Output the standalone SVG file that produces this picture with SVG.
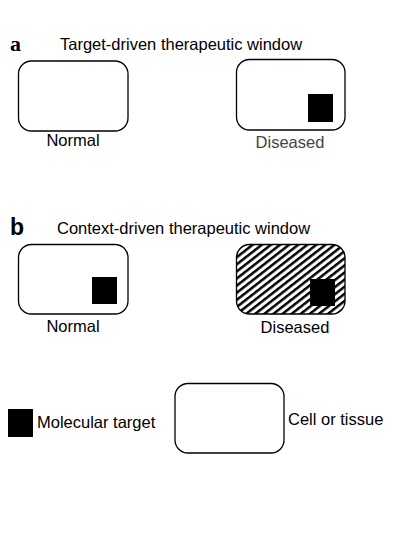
<svg xmlns="http://www.w3.org/2000/svg" width="413" height="543" viewBox="0 0 413 543">
<style>
.cell{fill:#fff;stroke:#000;stroke-width:1.3}
.tgt{fill:#000}
.t{font-family:"Liberation Sans",Arial,sans-serif;font-size:16.5px;fill:#000}
.lab{font-family:"Liberation Sans",Arial,sans-serif;font-size:16.5px;fill:#000;text-anchor:middle}
</style>
<defs>
<pattern id="hatch" patternUnits="userSpaceOnUse" width="5.6" height="10" patternTransform="rotate(52)">
<rect width="5.6" height="10" fill="#fff"/>
<rect x="0" y="0" width="2.5" height="10" fill="#000"/>
</pattern>
</defs>
<rect width="413" height="543" fill="#fff"/>
<g id="panel-a">
<text x="10" y="51" style="font-family:'Liberation Serif',serif;font-weight:bold;font-size:22px">a</text>
<text class="t" x="60" y="50">Target-driven therapeutic window</text>
<g id="a-normal">
<rect class="cell" x="18.5" y="61" width="109.5" height="70" rx="13"/>
<text class="lab" x="73" y="146">Normal</text>
</g>
<g id="a-diseased">
<rect class="cell" x="236.5" y="59.5" width="108.5" height="70.5" rx="13"/>
<rect class="tgt" x="308" y="94" width="25" height="28"/>
<text class="lab" x="290" y="148" style="fill:#444">Diseased</text>
</g>
</g>
<g id="panel-b">
<text x="10" y="235" style="font-family:'Liberation Sans',sans-serif;font-weight:bold;font-size:23px">b</text>
<text class="t" x="57" y="234">Context-driven therapeutic window</text>
<g id="b-normal">
<rect class="cell" x="18.5" y="244.5" width="109.5" height="69.5" rx="13"/>
<rect class="tgt" x="92" y="277" width="25" height="27"/>
<text class="lab" x="73" y="332">Normal</text>
</g>
<g id="b-diseased">
<rect x="236.5" y="244.5" width="108.5" height="69.5" rx="13" fill="url(#hatch)" stroke="#000" stroke-width="1.3"/>
<rect class="tgt" x="310" y="279" width="25" height="27"/>
<text class="lab" x="295" y="333">Diseased</text>
</g>
</g>
<g id="legend">
<g id="legend-target">
<rect class="tgt" x="8" y="409" width="25" height="28"/>
<text class="t" x="37" y="428">Molecular target</text>
</g>
<g id="legend-cell">
<rect class="cell" x="175" y="383.5" width="109" height="69.5" rx="13"/>
<text class="t" x="288" y="425">Cell or tissue</text>
</g>
</g>
<g id="connectors"></g>
</svg>
